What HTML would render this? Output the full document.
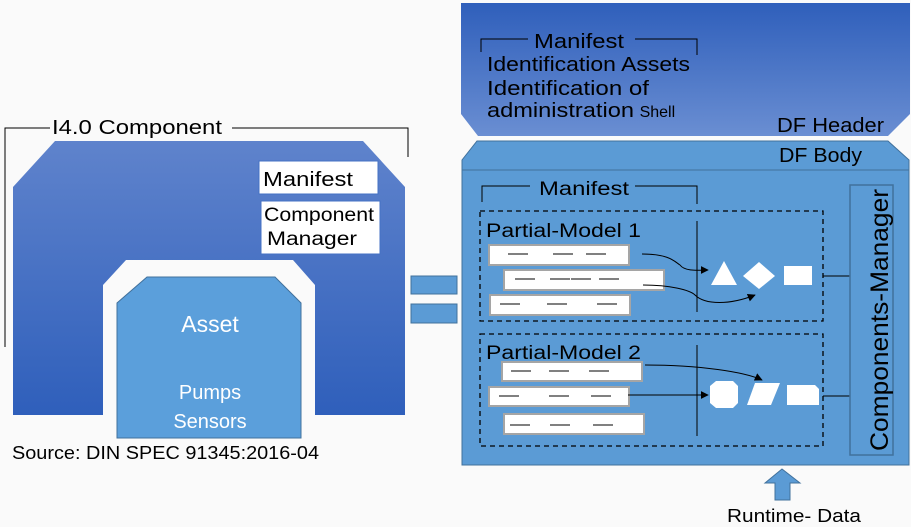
<!DOCTYPE html>
<html><head><meta charset="utf-8"><style>
html,body{margin:0;padding:0;background:#fafafa;}
svg{display:block;font-family:"Liberation Sans",Calibri,sans-serif;}
</style></head><body>
<svg width="911" height="527" viewBox="0 0 911 527" xmlns="http://www.w3.org/2000/svg">
<defs>
<linearGradient id="gL" x1="0" y1="0" x2="0" y2="1"><stop offset="0" stop-color="#5f83cc"/><stop offset="1" stop-color="#2f5fbb"/></linearGradient>
<linearGradient id="gH" x1="0" y1="0" x2="0" y2="1"><stop offset="0" stop-color="#2f5fbb"/><stop offset="1" stop-color="#6a8ed2"/></linearGradient>
<marker id="ar" viewBox="0 0 10 10" refX="9" refY="5" markerWidth="8" markerHeight="8" orient="auto"><path d="M0,0L10,5L0,10z" fill="#000"/></marker>
</defs>
<rect width="911" height="527" fill="#fafafa"/>
<path d="M55,141H363L405,187V415H315V285L293,260H126L103,285V415H13V187Z" fill="url(#gL)"/>
<polyline points="5,347 5,128 50,128" fill="none" stroke="#000" stroke-width="1"/>
<polyline points="232,128 408,128 408,157" fill="none" stroke="#000" stroke-width="1"/>
<text x="52" y="134" font-size="20" textLength="170" lengthAdjust="spacingAndGlyphs">I4.0 Component</text>
<rect x="259" y="161" width="119" height="33" fill="#fff" stroke="#4472c4"/>
<text x="263" y="186" font-size="20" textLength="90" lengthAdjust="spacingAndGlyphs">Manifest</text>
<rect x="261" y="201" width="119" height="53" fill="#fff" stroke="#4472c4"/>
<text x="264" y="221" font-size="19" textLength="110" lengthAdjust="spacingAndGlyphs">Component</text>
<text x="267" y="245" font-size="19" textLength="90" lengthAdjust="spacingAndGlyphs">Manager</text>
<path d="M147,277H275L301,303V438H117V303Z" fill="#5b9fdb" stroke="#41719c"/>
<text x="210" y="332" font-size="23" fill="#fff" text-anchor="middle">Asset</text>
<text x="210" y="399" font-size="20" fill="#fff" text-anchor="middle">Pumps</text>
<text x="210" y="428" font-size="20" fill="#fff" text-anchor="middle">Sensors</text>
<text x="12" y="459" font-size="18" textLength="307" lengthAdjust="spacingAndGlyphs">Source: DIN SPEC 91345:2016-04</text>
<rect x="411" y="276" width="46" height="18" fill="#5b9bd5" stroke="#41719c"/>
<rect x="411" y="304" width="46" height="19" fill="#5b9bd5" stroke="#41719c"/>
<path d="M461,3H910V114L888,136H478L461,114Z" fill="url(#gH)"/>
<polyline points="481,52 481,39 528,39" fill="none" stroke="#000"/>
<polyline points="635,39 697,39 697,55" fill="none" stroke="#000"/>
<text x="534" y="48" font-size="20" textLength="90" lengthAdjust="spacingAndGlyphs">Manifest</text>
<text x="487" y="71" font-size="20" textLength="203" lengthAdjust="spacingAndGlyphs">Identification Assets</text>
<text x="487" y="95" font-size="20" textLength="162" lengthAdjust="spacingAndGlyphs">Identification of</text>
<text x="487" y="117" font-size="20"><tspan textLength="147" lengthAdjust="spacingAndGlyphs">administration</tspan> <tspan font-size="16">Shell</tspan></text>
<text x="777" y="132" font-size="20" textLength="107" lengthAdjust="spacingAndGlyphs">DF Header</text>
<path d="M477,141H888L909,160V170H462V160Z" fill="#5b9bd5" stroke="#41719c"/>
<text x="779" y="162" font-size="20" textLength="83" lengthAdjust="spacingAndGlyphs">DF Body</text>
<rect x="462" y="170" width="447" height="295" fill="#5b9bd5" stroke="#41719c"/>
<polyline points="482,202 482,186 530,186" fill="none" stroke="#000"/>
<polyline points="635,186 697,186 697,204" fill="none" stroke="#000"/>
<text x="539" y="195" font-size="19" textLength="90" lengthAdjust="spacingAndGlyphs">Manifest</text>
<rect x="480" y="211" width="343" height="110" fill="none" stroke="#000" stroke-dasharray="5,4" stroke-width="1.3"/>
<rect x="480" y="334" width="343" height="112" fill="none" stroke="#000" stroke-dasharray="5,4" stroke-width="1.3"/>
<text x="486" y="237" font-size="19" textLength="155" lengthAdjust="spacingAndGlyphs">Partial-Model 1</text>
<text x="486" y="359" font-size="19" textLength="155" lengthAdjust="spacingAndGlyphs">Partial-Model 2</text>
<line x1="697" y1="221" x2="697" y2="312" stroke="#000"/>
<line x1="697" y1="345" x2="697" y2="436" stroke="#000"/>
<g fill="#fff" stroke="#a5a5a5" stroke-width="2">
<rect x="489" y="245" width="140" height="20"/><rect x="504" y="270" width="160" height="20"/><rect x="490" y="295" width="140" height="20"/>
<rect x="502" y="362" width="140" height="19"/><rect x="489" y="387" width="140" height="19"/><rect x="504" y="414" width="140" height="20"/>
</g>
<g stroke="#000" stroke-width="1">
<path d="M508,254h20M553,254h20M586,254h20"/>
<path d="M515,279h20M550,279h20M571,279h20M599,279h20"/>
<path d="M500,304h20M547,304h20M597,304h20"/>
<path d="M511,371h20M549,371h20M589,371h20"/>
<path d="M499,396h20M549,396h20M591,396h20"/>
<path d="M510,425h20M550,425h20M593,425h20"/>
</g>
<g fill="none" stroke="#000" stroke-width="1">
<path d="M642,254C670,254 675,262 680,265C685,272 700,270 708,270" marker-end="url(#ar)"/>
<path d="M643,285C670,285 690,290 695,295C705,305 730,305 755,295" marker-end="url(#ar)"/>
<path d="M645,365C700,365 745,372 762,380" marker-end="url(#ar)"/>
<path d="M628,395H708" marker-end="url(#ar)"/>
<path d="M823,276H850M823,396H850"/>
</g>
<g fill="#fff">
<polygon points="711,285 724,261 737,285"/>
<polygon points="759,262 775,276 759,289 743,276"/>
<rect x="784" y="266" width="28" height="19"/>
<polygon points="716,381 733,381 738,386 738,403 733,408 716,408 710,403 710,386"/>
<polygon points="755,383 780,383 771,405 747,405"/>
<polygon points="787,385 815,385 819,389 819,405 787,405"/>
</g>
<rect x="850" y="185" width="43" height="270" fill="none" stroke="#41719c" stroke-width="1.5"/>
<text transform="translate(888,320) rotate(-90)" font-size="25" text-anchor="middle" textLength="262" lengthAdjust="spacingAndGlyphs">Components-Manager</text>
<path d="M782,469L800,483H790V500H775V483H765Z" fill="#5b9bd5" stroke="#41719c"/>
<text x="727" y="522" font-size="18" textLength="134" lengthAdjust="spacingAndGlyphs">Runtime- Data</text>
</svg>
</body></html>
